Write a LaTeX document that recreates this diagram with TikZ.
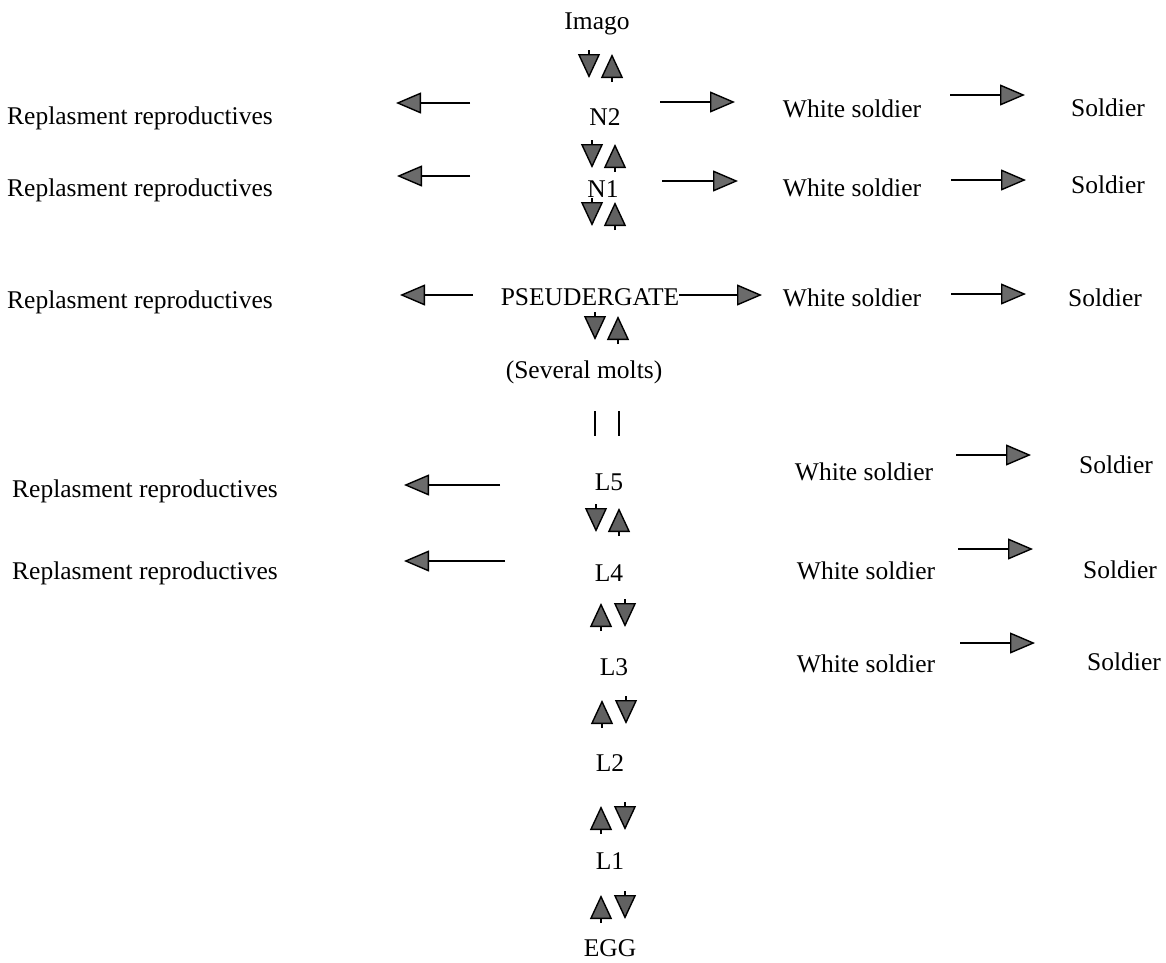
\documentclass[tikz,border=0pt]{standalone}
\usepackage{fontspec}
\setmainfont{Liberation Serif}
\usetikzlibrary{arrows.meta}
\begin{document}
\begin{tikzpicture}[x=1pt,y=-1pt,
  lbl/.style={inner sep=0pt,font=\fontsize{25.5}{30}\selectfont},
  harrow/.style={line width=1.8pt,-{Triangle[length=25pt,width=21pt,fill=black!58,line width=1.4pt]}},
  vpair/.style={line width=1.5pt,-{Triangle[length=24pt,width=22pt,fill=black!62,line width=1.4pt]}}
]
\useasboundingbox (0,0) rectangle (1166,962);
% central column
\node[lbl] (imago) at (597,24) {Imago};
\node[lbl] (n2) at (605,117) {N2};
\node[lbl] (n1) at (603,189) {N1};
\node[lbl] (pse) at (590,297) {PSEUDERGATE};
\node[lbl] (molts) at (584,372) {(Several molts)};
\node[lbl] (l5) at (609,482) {L5};
\node[lbl] (l4) at (609,573) {L4};
\node[lbl] (l3) at (614,667) {L3};
\node[lbl] (l2) at (610,763) {L2};
\node[lbl] (l1) at (610,861) {L1};
\node[lbl] (egg) at (610,948) {EGG};
% left column
\node[lbl] (r1) at (140,118) {Replasment reproductives};
\node[lbl] (r2) at (140,190) {Replasment reproductives};
\node[lbl] (r3) at (140,302) {Replasment reproductives};
\node[lbl] (r5) at (145,491) {Replasment reproductives};
\node[lbl] (r4) at (145,573) {Replasment reproductives};
% white soldiers
\node[lbl] (w1) at (852,109) {White soldier};
\node[lbl] (w2) at (852,188) {White soldier};
\node[lbl] (w3) at (852,298) {White soldier};
\node[lbl] (w5) at (864,472) {White soldier};
\node[lbl] (w4) at (866,571) {White soldier};
\node[lbl] (w6) at (866,664) {White soldier};
% soldiers
\node[lbl] (s1) at (1108,108) {Soldier};
\node[lbl] (s2) at (1108,185) {Soldier};
\node[lbl] (s3) at (1105,298) {Soldier};
\node[lbl] (s5) at (1116,465) {Soldier};
\node[lbl] (s4) at (1120,570) {Soldier};
\node[lbl] (s6) at (1124,662) {Soldier};
% left arrows
\coordinate (la1s) at (470,103); \coordinate (la1e) at (396,103);
\coordinate (la2s) at (470,176); \coordinate (la2e) at (397,176);
\coordinate (la3s) at (473,295); \coordinate (la3e) at (400,295);
\coordinate (la5s) at (500,485); \coordinate (la5e) at (404,485);
\coordinate (la4s) at (505,561); \coordinate (la4e) at (404,561);
\foreach \i in {1,2,3,5,4} \draw[harrow] (la\i s) -- (la\i e);
% right arrows from column
\coordinate (ra1s) at (660,102); \coordinate (ra1e) at (735,102);
\coordinate (ra2s) at (662,181); \coordinate (ra2e) at (738,181);
\draw[harrow] (ra1s) -- (ra1e);
\draw[harrow] (ra2s) -- (ra2e);
\draw[harrow] (pse.east |- 0,295) -- (762,295);
% white soldier to soldier arrows
\coordinate (wa1s) at (950,95);  \coordinate (wa1e) at (1025,95);
\coordinate (wa2s) at (951,180); \coordinate (wa2e) at (1026,180);
\coordinate (wa3s) at (951,294); \coordinate (wa3e) at (1026,294);
\coordinate (wa5s) at (956,455); \coordinate (wa5e) at (1031,455);
\coordinate (wa4s) at (958,549); \coordinate (wa4e) at (1033,549);
\coordinate (wa6s) at (960,643); \coordinate (wa6e) at (1035,643);
\foreach \i in {1,2,3,5,4,6} \draw[harrow] (wa\i s) -- (wa\i e);
% vertical pairs: down-left/up-right
\foreach \x/\y in {589/66, 592/156, 592/214, 595/328, 596/520}{
  \draw[vpair] (\x,\y-16) -- (\x,\y+12);
  \draw[vpair] (\x+23,\y+16) -- (\x+23,\y-12);
}
% vertical pairs: up-left/down-right
\foreach \x/\y in {601/615, 602/712, 601/818, 601/907}{
  \draw[vpair] (\x,\y+16) -- (\x,\y-12);
  \draw[vpair] (\x+24,\y-16) -- (\x+24,\y+12);
}
% bars under several molts
\draw[line width=1.4pt] (595,411) -- (595,436);
\draw[line width=1.4pt] (619,411) -- (619,436);
\end{tikzpicture}
\end{document}
